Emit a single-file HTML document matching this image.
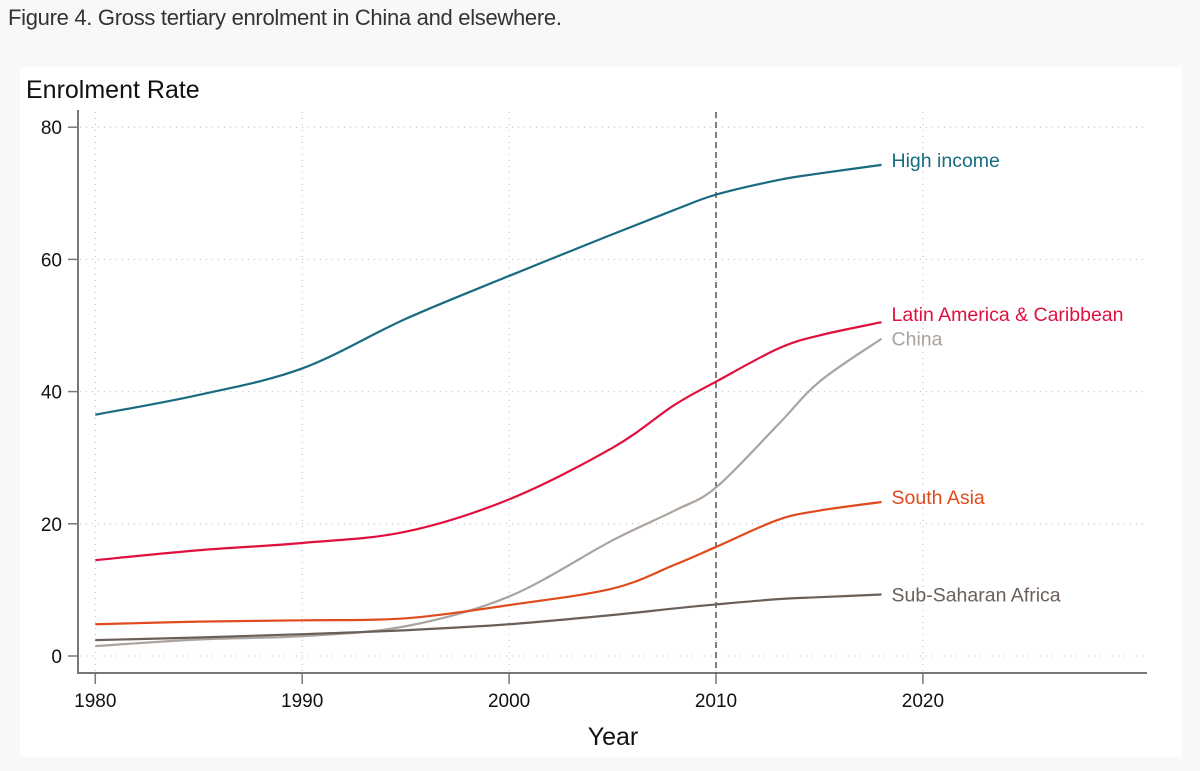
<!DOCTYPE html>
<html><head><meta charset="utf-8"><style>
body{margin:0;background:#f8f8f7;width:1200px;height:771px;overflow:hidden;font-family:"Liberation Sans",sans-serif}
#title{position:absolute;left:8px;top:5px;font-size:22px;color:#333;letter-spacing:-0.3px}
svg{position:absolute;left:0;top:0}
</style></head><body>
<div id="title">Figure 4. Gross tertiary enrolment in China and elsewhere.</div>
<svg id="c" width="1200" height="771"></svg>
<script>
const years=[1980,1985,1990,1995,2000,2005,2008,2010,2013,2015,2018];
const highIncome=[36.5,39.5,43.5,51,57.5,63.8,67.5,69.8,72,73,74.3];
const latinAmerica=[14.5,16,17.1,18.8,23.7,31.5,38,41.5,46.5,48.5,50.5];
const china=[1.5,2.5,3,4.5,9,17.5,22,25.5,35,41.5,48];
const southAsia=[4.8,5.2,5.4,5.7,7.7,10.2,13.8,16.5,20.6,22,23.3];
const ssa=[2.4,2.8,3.3,3.9,4.8,6.2,7.2,7.8,8.6,8.9,9.3];
const xTicks=[1980,1990,2000,2010,2020];
const yTicks=[0,20,40,60,80];
const seriesNames=["High income","Latin America & Caribbean","China","South Asia","Sub-Saharan Africa"];
const NS="http://www.w3.org/2000/svg";
const svg=document.getElementById('c');
const X=y=>95.3+(y-1980)*20.69;
const Y=v=>656-v*6.61;
function mk(t,a,p){const e=document.createElementNS(NS,t);for(const k in a)e.setAttribute(k,a[k]);(p||svg).appendChild(e);return e;}
const panel=mk('rect',{x:20,y:67,width:1162,height:690,fill:'#fff'});


xTicks.forEach(t=>{const l=mk('line',{x1:X(t),x2:X(t),y1:112,y2:673,stroke:'#bbb','stroke-dasharray':'1 5'});


const tk=mk('line',{x1:X(t),x2:X(t),y1:673,y2:684,stroke:'#777','stroke-width':1.5});


const tx=mk('text',{x:X(t),y:707,'text-anchor':'middle','font-size':19,fill:'#111'});tx.textContent=t;

});
yTicks.forEach(t=>{const l=mk('line',{x1:80,x2:1147,y1:Y(t),y2:Y(t),stroke:'#bbb','stroke-dasharray':'1 5'});


const tk=mk('line',{x1:68,x2:78,y1:Y(t),y2:Y(t),stroke:'#777','stroke-width':1.5});


const tx=mk('text',{x:62,y:Y(t)+7,'text-anchor':'end','font-size':19,fill:'#111'});tx.textContent=t;

});
const ax=mk('path',{d:'M78 110 V673 H1147',fill:'none',stroke:'#777','stroke-width':2});


const vl=mk('line',{x1:X(2010),x2:X(2010),y1:112,y2:673,stroke:'#555','stroke-width':1.5,'stroke-dasharray':'6 4'});


const yt=mk('text',{x:26,y:98,'font-size':25,fill:'#111'});yt.textContent='Enrolment Rate';


const xt=mk('text',{x:613,y:745,'text-anchor':'middle','font-size':25,fill:'#111'});xt.textContent='Year';


function path(vals){const p=years.map((y,i)=>[X(y),Y(vals[i])]);let d='M'+p[0][0]+' '+p[0][1];
for(let i=0;i<p.length-1;i++){const p0=p[i-1]||p[i],p1=p[i],p2=p[i+1],p3=p[i+2]||p2;
d+=` C${p1[0]+(p2[0]-p0[0])/6} ${p1[1]+(p2[1]-p0[1])/6} ${p2[0]-(p3[0]-p1[0])/6} ${p2[1]-(p3[1]-p1[1])/6} ${p2[0]} ${p2[1]}`;}return d;}
const data=[highIncome,latinAmerica,china,southAsia,ssa];
const colors=['#1a6b82','#e0103e','#aaa39e','#e04a1c','#6b5f59'];
const names=['high-income','latin-america','china','south-asia','sub-saharan-africa'];
const dy=[2,-1,7,2,7];
data.forEach((v,i)=>{const l=mk('path',{d:path(v),fill:'none',stroke:colors[i],'stroke-width':2.2});


const t=mk('text',{x:X(2018)+10,y:Y(v[v.length-1])+dy[i],'font-size':19.5,fill:colors[i]});t.textContent=seriesNames[i];

});
</script>
</body></html>
